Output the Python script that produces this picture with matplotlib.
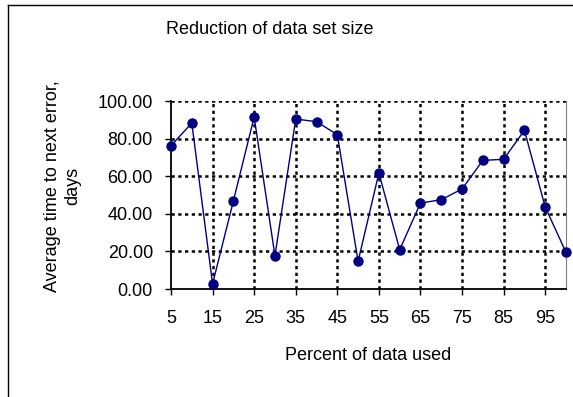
import numpy as np
import matplotlib.pyplot as plt
from matplotlib.lines import Line2D

plt.rcParams['font.family'] = ['Liberation Sans', 'DejaVu Sans']

# data
pct_used = [5, 10, 15, 20, 25, 30, 35, 40, 45, 50,
            55, 60, 65, 70, 75, 80, 85, 90, 95, 100]
avg_time = [76.2, 88.3, 2.7, 46.8, 91.5, 17.7, 90.4, 89.0, 82.1, 14.7,
            61.7, 20.9, 45.7, 47.5, 53.2, 68.4, 69.0, 84.4, 43.6, 19.5]
x_ticks = [5, 15, 25, 35, 45, 55, 65, 75, 85, 95]
y_ticks = [0, 20, 40, 60, 80, 100]

W, H = 573, 397
fig = plt.figure(figsize=(W / 100, H / 100), dpi=100)
ax = fig.add_axes([171 / W, 1 - 289 / H, (566 - 171) / W, (289 - 101) / H])

ax.plot(pct_used, avg_time, color='#000080', lw=1.0, marker='o',
        markersize=6.5, markerfacecolor='#000080', markeredgecolor='#000080',
        clip_on=False, zorder=5)

ax.set_xlim(5, 100)
ax.set_ylim(0, 100)
ax.set_xticks(x_ticks)
ax.set_yticks(y_ticks)
ax.set_yticklabels(['%.2f' % v for v in y_ticks])

# dotted grid
for gx in x_ticks[1:]:
    ax.axvline(gx, color='black', lw=1.8, ls=(0, (1.3, 1.4)), zorder=1)
for gy in y_ticks[1:]:
    ax.axhline(gy, color='black', lw=1.8, ls=(0, (1.3, 1.4)), zorder=1)

ax.spines['top'].set_visible(False)
ax.spines['right'].set_color('#808080')
ax.spines['right'].set_linewidth(0.8)
ax.spines['left'].set_linewidth(1.3)
ax.spines['bottom'].set_linewidth(1.3)

ax.tick_params(axis='both', labelsize=13, direction='out', length=4, width=1)
ax.tick_params(axis='y', pad=9)
ax.tick_params(axis='x', pad=11)

fig.text(270 / W, 1 - 30 / H, 'Reduction of data set size', fontsize=13,
         ha='center', va='center')
fig.text(368 / W, 1 - 355 / H, 'Percent of data used', fontsize=13,
         ha='center', va='center')
fig.text(63 / W, 1 - 186 / H, 'Average time to next error,\ndays', fontsize=13,
         ha='center', va='center', rotation=90, linespacing=1.25)

# outer chart border
fig.add_artist(Line2D([8 / W, 8 / W], [0, 1 - 5 / H], color='black', lw=1.0))
fig.add_artist(Line2D([8 / W, 1], [1 - 5 / H, 1 - 5 / H], color='black', lw=1.0))

fig.savefig('out.png', dpi=100)
